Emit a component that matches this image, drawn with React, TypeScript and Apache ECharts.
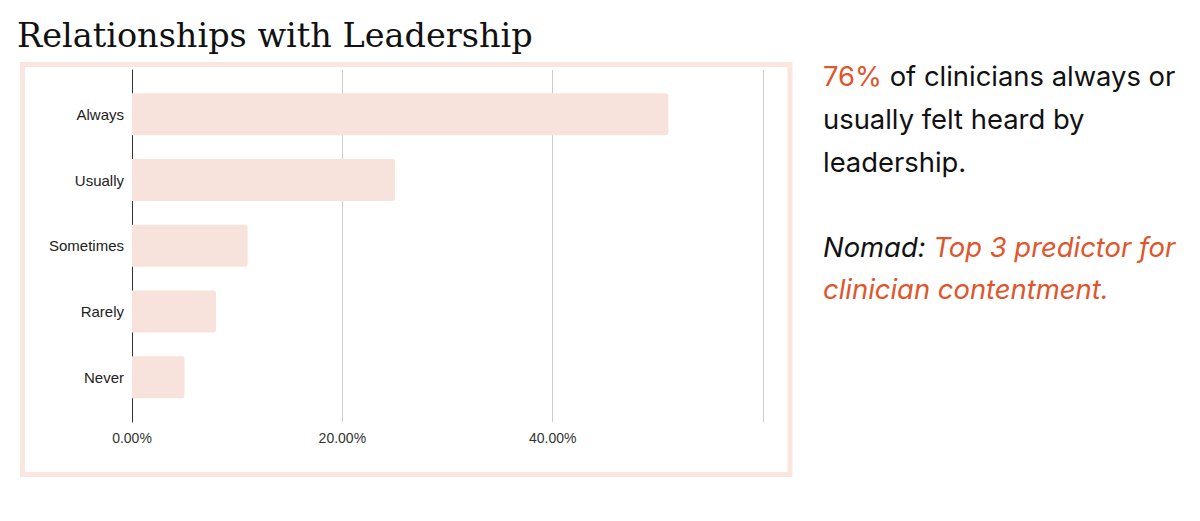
import React, { useEffect, useRef } from "react";
import * as echarts from "echarts";

const categories = ["Always", "Usually", "Sometimes", "Rarely", "Never"];
const percentValues = [51, 25, 11, 8, 5];
const xTicks = [0, 20, 40, 60];

const titleText = "Relationships with Leadership";
const highlightValue = "76%";
const noteLines = ["of clinicians always or", "usually felt heard by", "leadership."];
const nomadLabel = "Nomad:";
const nomadLines = ["Top 3 predictor for", "clinician contentment."];

const ORANGE = "#e0552b";
const PINK = "#f8e3dc";
const FRAME = "#fbe5df";
const SIDE_FONT = "27.4px Inter, sans-serif";
const SIDE_FONT_I = "italic 27.4px Inter, sans-serif";

export default function App() {
  const ref = useRef<HTMLDivElement>(null);
  useEffect(() => {
    if (!ref.current) return;
    const chart = echarts.init(ref.current, null, { renderer: "svg" });
    const xMin = xTicks[0];
    const xMax = xTicks[xTicks.length - 1];
    const xInterval = xTicks[1] - xTicks[0];
    chart.setOption({
      animation: false,
      backgroundColor: "#ffffff",
      grid: [
        { left: 132, right: 437, top: 81.5, bottom: 111, containLabel: false },
        { left: 132, right: 437, top: 70, bottom: 99, containLabel: false },
      ],
      xAxis: [
        { gridIndex: 0, type: "value", min: xMin, max: xMax, interval: xInterval, show: false },
        {
          gridIndex: 1,
          type: "value",
          min: xMin,
          max: xMax,
          interval: xInterval,
          axisLine: { show: false },
          axisTick: { show: false },
          splitLine: { show: true, lineStyle: { color: "#cccccc", width: 1 } },
          axisLabel: {
            margin: 9,
            color: "#333333",
            fontSize: 14,
            fontFamily: "Liberation Sans, Arial, sans-serif",
            formatter: (v: number) => (v >= xMax ? "" : v.toFixed(2) + "%"),
          },
        },
      ],
      yAxis: [
        {
          gridIndex: 0,
          type: "category",
          inverse: true,
          data: categories,
          axisLine: { show: false },
          axisTick: { show: false },
          splitLine: { show: false },
          axisLabel: {
            margin: 8,
            color: "#222222",
            fontSize: 15,
            fontFamily: "Liberation Sans, Arial, sans-serif",
          },
        },
        {
          gridIndex: 1,
          type: "category",
          data: categories,
          axisLine: { show: true, lineStyle: { color: "#333333", width: 1 } },
          axisTick: { show: false },
          axisLabel: { show: false },
          splitLine: { show: false },
        },
      ],
      series: [
        {
          type: "bar",
          xAxisIndex: 0,
          yAxisIndex: 0,
          data: percentValues,
          barWidth: 42,
          z: 5,
          itemStyle: { color: PINK, borderRadius: [0, 3, 3, 0] },
        },
      ],
      graphic: [
        {
          type: "rect",
          shape: { x: 22.5, y: 64.5, width: 767.5, height: 410 },
          style: { fill: "none", stroke: FRAME, lineWidth: 5 },
          z: -1,
        },
        {
          type: "text",
          x: 17,
          y: 18,
          style: {
            text: titleText,
            fill: "#111111",
            font: "33.5px 'DejaVu Serif', Georgia, serif",
            verticalAlign: "top",
          },
        },
        {
          type: "text",
          x: 823,
          y: 54,
          style: {
            text: "{o|" + highlightValue + "} " + noteLines.join("\n"),
            fill: "#111111",
            font: SIDE_FONT,
            lineHeight: 43,
            verticalAlign: "top",
            rich: {
              o: { fill: ORANGE, font: SIDE_FONT, lineHeight: 43 },
            },
          },
        },
        {
          type: "text",
          x: 823,
          y: 226,
          style: {
            text: "{k|" + nomadLabel + "} " + nomadLines.map((l) => "{o|" + l + "}").join("\n"),
            fill: "#111111",
            font: SIDE_FONT_I,
            lineHeight: 42,
            verticalAlign: "top",
            rich: {
              k: { fill: "#111111", font: SIDE_FONT_I, lineHeight: 42 },
              o: { fill: ORANGE, font: SIDE_FONT_I, lineHeight: 42 },
            },
          },
        },
      ],
    });
    return () => chart.dispose();
  }, []);
  return (
    <div
      ref={ref}
      style={{ position: "absolute", left: 0, top: 0, width: 1200, height: 521 }}
    />
  );
}
